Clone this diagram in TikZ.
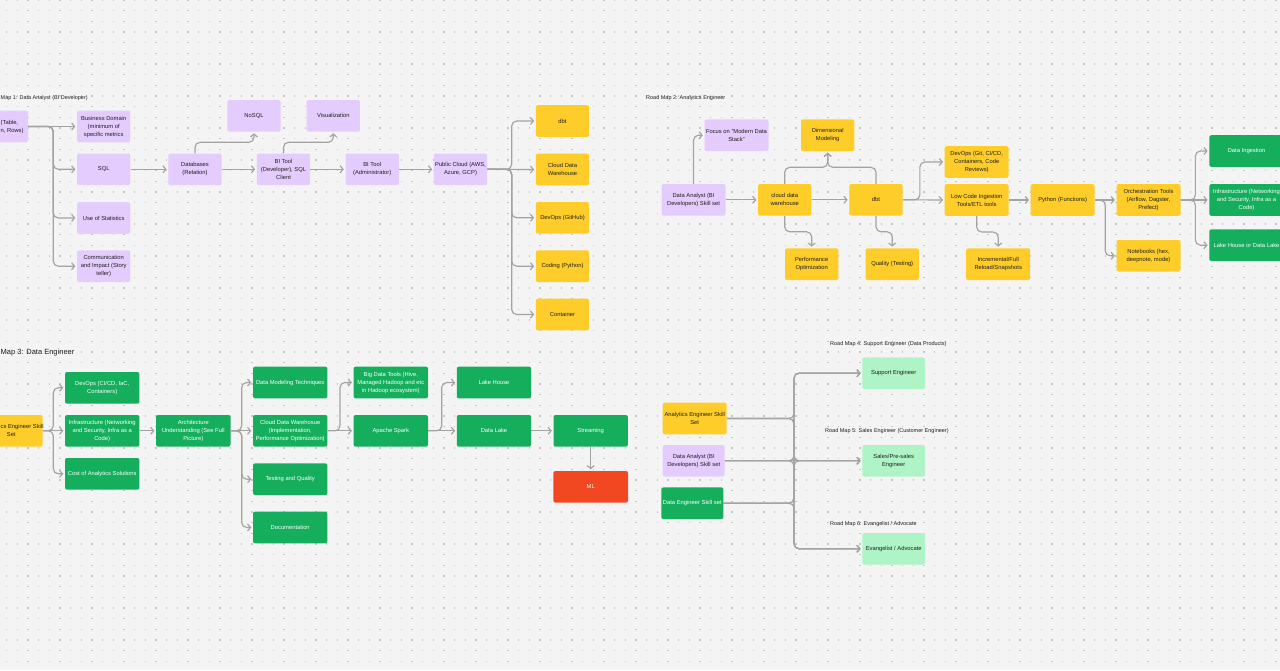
\documentclass[tikz,border=0pt]{standalone}
\usepackage{fontspec}
\setmainfont{Liberation Sans}
\usetikzlibrary{arrows.meta}
\definecolor{bg}{HTML}{F4F4F4}
\definecolor{dotc}{HTML}{C6C6C6}
\definecolor{purp}{HTML}{E4CCFF}
\definecolor{yel}{HTML}{FFCD29}
\definecolor{grn}{HTML}{14AE5C}
\definecolor{lgrn}{HTML}{AFF4C6}
\definecolor{redc}{HTML}{F24822}
\definecolor{ink}{HTML}{1E1E1E}
\definecolor{conn}{HTML}{A3A3A3}
\newcommand\boxfont{\fontsize{5.8}{8}\selectfont}
\newcommand\smalltitle{\fontsize{5.5}{7}\selectfont}
\newcommand\bigtitle{\fontsize{7.5}{9}\selectfont}
\begin{document}
\begin{tikzpicture}[x=1pt,y=-1pt,
 card/.style={rounded corners=2pt, align=center, inner sep=1pt, font=\boxfont, text=ink, minimum height=31.6pt},
 pbox/.style={card, fill=purp, minimum width=53.3pt},
 ybox/.style={card, fill=yel, minimum width=53.3pt},
 wybox/.style={card, fill=yel, minimum width=64pt},
 wpbox/.style={card, fill=purp, minimum width=64pt},
 gbox/.style={card, fill=grn, text=white, minimum width=74.4pt},
 sgbox/.style={card, fill=grn, text=white, minimum width=62pt},
 lgbox/.style={card, fill=lgrn, minimum width=62.7pt},
 rbox/.style={card, fill=redc, text=white, minimum width=74.7pt},
 edgetext/.style={font=\boxfont, text=ink, align=left, anchor=west, inner sep=0pt},
 ttl/.style={font=\smalltitle, text=ink, anchor=west, inner sep=0pt},
 arr/.style={draw=conn, line width=1.15pt, rounded corners=5pt, -{Straight Barb[length=3pt,width=7pt]}, shorten >=1.5pt},
]
\useasboundingbox (0,0) rectangle (1280,670);
\clip (0,0) rectangle (1280,670);
\fill[bg] (0,0) rectangle (1280,670);
\foreach \j in {0,...,63}
  \draw[dotc, line width=1.5pt, dash pattern=on 1.5pt off 9.167pt] (5.92,\j*10.667) -- (1280,\j*10.667);

% ---------------- Road Map 1 ----------------
\node[ttl] (t1) at (0.5,98) {Map 1: Data Analyst (BI Developer)};
\node[pbox, minimum width=70pt] (l1) at (-7,126.5) {};
\node[edgetext] (l1t) at (0.5,126.5) {(Table,\\n, Rows)};
\node[pbox] (bd) at (103.7,126.5) {Business Domain\\(minimum of\\specific metrics};
\node[pbox] (sql) at (103.7,169.3) {SQL};
\node[pbox] (stats) at (103.7,218) {Use of Statistics};
\node[pbox] (comm) at (103.7,266.2) {Communication\\and Impact (Story\\teller)};
\node[pbox] (db) at (195,169.3) {Databases\\(Relation)};
\node[pbox] (nosql) at (254,115.8) {NoSQL};
\node[pbox] (bidev) at (283.5,169.3) {BI Tool\\(Developer), SQL\\Client};
\node[pbox] (viz) at (333.3,115.8) {Visualization};
\node[pbox] (biadm) at (372.2,169.3) {BI Tool\\(Administrator)};
\node[pbox] (pc) at (460.5,169.3) {Public Cloud (AWS,\\Azure, GCP)};
\node[ybox] (dbt1) at (562.5,121) {dbt};
\node[ybox] (cdw1) at (562.5,169.5) {Cloud Data\\Warehouse};
\node[ybox] (devops1) at (562.5,217.8) {DevOps (GitHub)};
\node[ybox] (coding) at (562.5,266.2) {Coding (Python)};
\node[ybox] (cont) at (562.5,314.5) {Container};

\coordinate (j1) at (53.3,126.5);
\coordinate (j2) at (511.7,169.3);
\draw[arr] (l1.east) -- (bd.west);
\draw[arr] (l1.east) -- (j1) |- (sql.west);
\draw[arr] (l1.east) -- (j1) |- (stats.west);
\draw[arr] (l1.east) -- (j1) |- (comm.west);
\draw[arr] (sql.east) -- (db.west);
\draw[arr] (db.north) -- ++(0,-11) -| (nosql.south);
\draw[arr] (db.east) -- (bidev.west);
\draw[arr] (bidev.north) -- ++(0,-11) -| (viz.south);
\draw[arr] (bidev.east) -- (biadm.west);
\draw[arr] (biadm.east) -- (pc.west);
\draw[arr] (pc.east) -- (j2) |- (dbt1.west);
\draw[arr] (pc.east) -- (cdw1.west);
\draw[arr] (pc.east) -- (j2) |- (devops1.west);
\draw[arr] (pc.east) -- (j2) |- (coding.west);
\draw[arr] (pc.east) -- (j2) |- (cont.west);

% ---------------- Road Map 2 ----------------
\node[ttl] (t2) at (646,98) {Road Map 2: Analytics Engineer};
\node[wpbox] (focus) at (736.5,135.2) {Focus on "Modern Data\\Stack"};
\node[ybox] (dim) at (827.7,135.2) {Dimensional\\Modeling};
\node[wpbox] (da2) at (693.5,199.8) {Data Analyst (BI\\Developers) Skill set};
\node[ybox] (cdw2) at (784.7,199.8) {cloud data\\warehouse};
\node[ybox] (dbt2) at (876,199.8) {dbt};
\node[ybox] (perf) at (811.7,264.2) {Performance\\Optimization};
\node[ybox] (qual) at (892.2,264.2) {Quality (Testing)};
\node[wybox] (devops2) at (976.7,162) {DevOps (Git, CI/CD,\\Containers, Code\\Reviews)};
\node[wybox] (lowcode) at (976.7,200) {Low Code Ingestion\\Tools/ETL tools};
\node[wybox] (incr) at (998.2,264.2) {Incremental/Full\\Reload/Snapshots};
\node[wybox] (py) at (1062.7,200) {Python (Functions)};
\node[wybox] (orch) at (1148.5,200) {Orchestration Tools\\(Airflow, Dagster,\\Prefect)};
\node[wybox] (nb) at (1148.5,255.8) {Notebooks (hex,\\deepnote, mode)};
\node[gbox] (di) at (1246.5,151) {Data Ingestion};
\node[gbox] (infra2) at (1246.5,200) {Infrastructure (Networking\\and Security, Infra as a\\Code)};
\node[gbox] (lake2) at (1246.5,245.2) {Lake House or Data Lake};

\draw[arr] (da2.north) |- (focus.west);
\draw[arr] (da2.east) -- (cdw2.west);
\draw[arr] (cdw2.north) -- ++(0,-16.5) -| (dim.south);
\draw[arr] (dbt2.north) -- ++(0,-16.5) -| (dim.south);
\draw[arr] (cdw2.east) -- (dbt2.west);
\draw[arr] (cdw2.south) -- ++(0,16) -| (perf.north);
\draw[arr] (dbt2.south) -- ++(0,16) -| (qual.north);
\draw[arr] (dbt2.east) -- ++(17,0) |- (devops2.west);
\draw[arr] (dbt2.east) -- (lowcode.west);
\draw[arr] (lowcode.south) -- ++(0,16) -| (incr.north);
\draw[arr] (lowcode.east) -- (py.west);
\draw[arr] (py.east) -- (orch.west);
\draw[arr] (py.east) -- ++(10.3,0) |- (nb.west);
\draw[arr] (orch.east) -- ++(14.7,0) |- (di.west);
\draw[arr] (orch.east) -- (infra2.west);
\draw[arr] (orch.east) -- ++(14.7,0) |- (lake2.west);

% ---------------- Road Map 3 ----------------
\node[ttl, font=\bigtitle] (t3) at (0.5,353) {Map 3: Data Engineer};
\node[wybox] (ae3) at (10.7,430.8) {};
\node[edgetext] (ae3t) at (0.5,430.8) {cs Engineer Skill\\\hspace*{6.2pt}Set};
\node[gbox] (devops3) at (102.2,387.8) {DevOps (CI/CD, IaC,\\Containers)};
\node[gbox] (infra3) at (102.2,430.8) {Infrastructure (Networking\\and Security, Infra as a\\Code)};
\node[gbox] (cost) at (102.2,473.8) {Cost of Analytics Solutions};
\node[gbox] (arch) at (193.3,430.8) {Architecture\\Understanding (See Full\\Picture)};
\node[gbox] (dmt) at (290.2,382.5) {Data Modeling Techniques};
\node[gbox] (cdw3) at (290.2,430.8) {Cloud Data Warehosue\\(Implementation,\\Performance Optimization)};
\node[gbox] (test) at (290.2,479.2) {Testing and Quality};
\node[gbox] (doc) at (290.2,527.5) {Documentation};
\node[gbox] (bdt) at (390.8,382.5) {Big Data Tools (Hive,\\Managed Hadoop and etc\\in Hadoop ecosystem)};
\node[gbox] (spark) at (390.8,430.8) {Apache Spark};
\node[gbox] (lh) at (494,382.5) {Lake House};
\node[gbox] (dl) at (494,430.8) {Data Lake};
\node[gbox] (stream) at (590.7,430.8) {Streaming};
\node[rbox] (ml) at (590.7,486.8) {ML};

\coordinate (j3) at (53.3,430.8);
\coordinate (j4) at (241.7,430.8);
\coordinate (j5) at (340,430.8);
\coordinate (j6) at (441.7,430.8);
\draw[arr] (ae3.east) -- (j3) |- (devops3.west);
\draw[arr] (ae3.east) -- (infra3.west);
\draw[arr] (ae3.east) -- (j3) |- (cost.west);
\draw[arr] (infra3.east) -- (arch.west);
\draw[arr] (arch.east) -- (j4) |- (dmt.west);
\draw[arr] (arch.east) -- (cdw3.west);
\draw[arr] (arch.east) -- (j4) |- (test.west);
\draw[arr] (arch.east) -- (j4) |- (doc.west);
\draw[arr] (cdw3.east) -- (j5) |- (bdt.west);
\draw[arr] (cdw3.east) -- (spark.west);
\draw[arr] (spark.east) -- (j6) |- (lh.west);
\draw[arr] (spark.east) -- (dl.west);
\draw[arr] (dl.east) -- (stream.west);
\draw[arr] (stream.south) -- (ml.north);

% ---------------- Road Maps 4-6 ----------------
\node[ttl] (t4) at (830,344) {Road Map 4: Support Engineer (Data Products)};
\node[ttl] (t5) at (825,431) {Road Map 5: Sales Engineer (Customer Engineer)};
\node[ttl] (t6) at (830,523.7) {Road Map 6: Evangelist / Advocate};
\node[wybox] (ae4) at (694.7,418.5) {Analytics Engineer Skill\\Set};
\node[card, fill=purp, minimum width=62pt] (da4) at (693.7,460.8) {Data Analyst (BI\\Developers) Skill set};
\node[sgbox] (de4) at (692.3,503.2) {Data Engineer Skill set};
\node[lgbox] (sup) at (893.7,373.2) {Support Engineer};
\node[lgbox] (sales) at (893.7,460.8) {Sales/Pre-sales\\Engineer};
\node[lgbox] (evan) at (893.7,548.8) {Evangelist / Advocate};

\coordinate (trunk) at (794,0);
\foreach \s in {ae4,de4}
  \foreach \t in {sup,sales,evan}
    \draw[arr] (\s.east) -- (\s.east -| trunk) |- (\t.west);
\draw[arr] (da4.east) -- (da4.east -| trunk) |- (sup.west);
\draw[arr] (da4.east) -- (sales.west);
\draw[arr] (da4.east) -- (da4.east -| trunk) |- (evan.west);
\end{tikzpicture}
\end{document}
